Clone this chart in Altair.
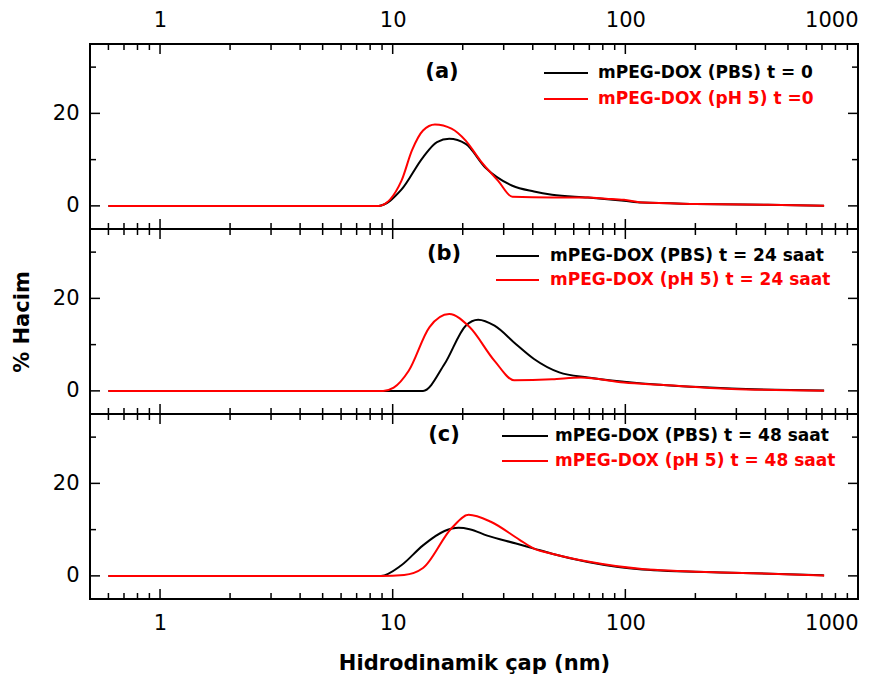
import altair as alt
import pandas as pd

# ---------------- data ----------------
series_names = ["pbs", "ph5"]
series_colors = ["#000000", "#ff0000"]

# panel (a) t = 0
a_pbs_d = [0.6, 8.7, 10.9, 13.5, 15.5, 17.5, 20.6, 25.0, 32.7, 40.5, 48.4, 69.0, 98.6, 118, 201, 409, 715]
a_pbs_v = [0, 0, 3.5, 10.5, 13.8, 14.5, 13.4, 8.3, 4.35, 3.1, 2.4, 1.8, 1.1, 0.72, 0.43, 0.22, 0.05]
a_ph5_d = [0.6, 8.7, 10.9, 12.1, 13.5, 15.2, 17.9, 20.6, 23.8, 28.4, 32.7, 48.4, 69.0, 82.6, 98.6, 118, 201, 409, 715]
a_ph5_v = [0, 0, 5.4, 12.0, 16.3, 17.6, 16.7, 14.1, 9.8, 5.4, 1.96, 1.8, 1.8, 1.56, 1.3, 0.72, 0.43, 0.22, 0.05]

# panel (b) t = 24 saat
b_pbs_d = [0.6, 13.5, 16.7, 20.6, 23.3, 27.4, 33.9, 40.5, 52.0, 69.0, 98.6, 141, 286, 715]
b_pbs_v = [0, 0, 5.8, 14.1, 15.4, 14.1, 10.1, 6.9, 4.0, 2.9, 2.0, 1.3, 0.5, 0.1]
b_ph5_d = [0.6, 9.1, 10.1, 11.7, 14.4, 17.5, 21.4, 27.4, 33.3, 48.4, 64.4, 98.6, 141, 286, 715]
b_ph5_v = [0, 0, 0.7, 4.3, 13.8, 16.6, 13.8, 6.5, 2.3, 2.5, 2.9, 1.8, 1.3, 0.4, 0.05]

# panel (c) t = 48 saat
c_pbs_d = [0.6, 8.9, 10.9, 13.5, 16.7, 19.2, 21.4, 25.5, 33.9, 40.5, 48.4, 69.0, 118, 286, 715]
c_pbs_v = [0, 0, 2.3, 6.6, 9.7, 10.4, 10.1, 8.7, 7.0, 5.9, 4.8, 3.0, 1.4, 0.7, 0.1]
c_ph5_d = [0.6, 8.9, 11.2, 13.5, 17.9, 21.2, 26.4, 35.1, 40.5, 48.4, 69.0, 118, 286, 715]
c_ph5_v = [0, 0, 0.2, 1.7, 10.3, 13.2, 11.7, 7.8, 5.9, 4.8, 3.1, 1.5, 0.7, 0.1]

panel_tags = ["(a)", "(b)", "(c)"]
legend_a = ["mPEG-DOX (PBS) t = 0", "mPEG-DOX (pH 5) t =0"]
legend_b = ["mPEG-DOX (PBS) t = 24 saat", "mPEG-DOX (pH 5) t = 24 saat"]
legend_c = ["mPEG-DOX (PBS) t = 48 saat", "mPEG-DOX (pH 5) t = 48 saat"]

x_major = [1, 10, 100, 1000]
x_minor = [0.6, 0.7, 0.8, 0.9, 2, 3, 4, 5, 6, 7, 8, 9,
           20, 30, 40, 50, 60, 70, 80, 90, 200, 300, 400, 500, 600, 700, 800, 900]
y_labeled = [0, 20]
y_minor = [10, 30]
x_labels = [1, 10, 100, 1000]

x_title = "Hidrodinamik çap (nm)"
y_title = "% Hacim"

# ---------------- styling ----------------
W, H = 768, 185
FONT = "DejaVu Sans"
X_DOMAIN = [0.5, 1000]
Y_DOMAIN = [-5, 35]
MAJ, MIN = 10, 6


def xs():
    return alt.Scale(type="log", domain=X_DOMAIN, nice=False)


def ys():
    return alt.Scale(domain=Y_DOMAIN, nice=False, zero=False)


def tick_layers(xaxis, yaxis):
    out = []
    for vals, L in ((x_major, MAJ), (x_minor, MIN)):
        base = alt.Chart(pd.DataFrame({"t": vals})).mark_rule(color="black", strokeWidth=1.5)
        xe = alt.X("t:Q", scale=xs(), axis=xaxis)
        out.append(base.encode(x=xe, y=alt.value(0), y2=alt.value(L)))
        out.append(base.encode(x=xe, y=alt.value(H), y2=alt.value(H - L)))
    for vals, L in ((y_labeled, MAJ), (y_minor, MIN)):
        base = alt.Chart(pd.DataFrame({"t": vals})).mark_rule(color="black", strokeWidth=1.5)
        ye = alt.Y("t:Q", scale=ys(), axis=yaxis)
        out.append(base.encode(y=ye, x=alt.value(0), x2=alt.value(L)))
        out.append(base.encode(y=ye, x=alt.value(W), x2=alt.value(W - L)))
    return out


def panel(d1, v1, d2, v2, tag, legend, pos, xaxis_kind, show_ytitle):
    df = pd.concat([
        pd.DataFrame({"d": d1, "v": v1, "s": series_names[0]}),
        pd.DataFrame({"d": d2, "v": v2, "s": series_names[1]}),
    ])
    if xaxis_kind == "top":
        xaxis = alt.Axis(orient="top", values=x_labels, format="d", ticks=False, domain=False,
                         grid=False, labelFontSize=21, labelPadding=14, labelColor="black",
                         labelFont=FONT, title=None)
    elif xaxis_kind == "bottom":
        xaxis = alt.Axis(orient="bottom", values=x_labels, format="d", ticks=False, domain=False,
                         grid=False, labelFontSize=21, labelPadding=13, labelColor="black",
                         labelFont=FONT, title=x_title, titleFontSize=21, titleFontWeight="bold",
                         titleFont=FONT, titlePadding=19, titleColor="black")
    else:
        xaxis = None
    yargs = dict(values=y_labeled, ticks=False, domain=False, grid=False, labelFontSize=21,
                 labelPadding=11, labelColor="black", labelFont=FONT,
                 minExtent=38, maxExtent=38)
    if show_ytitle:
        yargs.update(title=y_title, titleFontSize=21, titleFontWeight="bold", titleFont=FONT,
                     titlePadding=20, titleColor="black")
    else:
        yargs.update(title=None)
    yaxis = alt.Axis(**yargs)
    lines = alt.Chart(df).mark_line(strokeWidth=2, interpolate="monotone", clip=True).encode(
        x=alt.X("d:Q", scale=xs(), axis=xaxis),
        y=alt.Y("v:Q", scale=ys(), axis=yaxis),
        color=alt.Color("s:N", scale=alt.Scale(domain=series_names, range=series_colors), legend=None),
    )
    layers = [lines] + tick_layers(xaxis, yaxis)
    # panel tag
    layers.append(
        alt.Chart(pd.DataFrame({"t": [tag]})).mark_text(
            align="center", baseline="middle", fontSize=21, fontWeight="bold", font=FONT, color="black"
        ).encode(text="t:N", x=alt.value(pos["tag"][0]), y=alt.value(pos["tag"][1]))
    )
    for i in range(2):
        c = series_colors[i]
        yy = pos["ys"][i]
        layers.append(
            alt.Chart(pd.DataFrame({"k": [0]})).mark_rule(color=c, strokeWidth=2).encode(
                x=alt.value(pos["line"][0]), x2=alt.value(pos["line"][1]), y=alt.value(yy))
        )
        layers.append(
            alt.Chart(pd.DataFrame({"t": [legend[i]]})).mark_text(
                align="left", baseline="middle", fontSize=17, fontWeight="bold", font=FONT, color=c
            ).encode(text="t:N", x=alt.value(pos["text"]), y=alt.value(yy))
        )
    return alt.layer(*layers).properties(width=W, height=H)


pos_a = {"tag": (352, 28), "line": (454, 498), "text": 508, "ys": (29, 55)}
pos_b = {"tag": (354, 25), "line": (406, 449), "text": 460, "ys": (27, 51)}
pos_c = {"tag": (354, 21), "line": (412, 458), "text": 465, "ys": (22, 47)}

pa = panel(a_pbs_d, a_pbs_v, a_ph5_d, a_ph5_v, panel_tags[0], legend_a, pos_a, "top", False)
pb = panel(b_pbs_d, b_pbs_v, b_ph5_d, b_ph5_v, panel_tags[1], legend_b, pos_b, "none", True)
pc = panel(c_pbs_d, c_pbs_v, c_ph5_d, c_ph5_v, panel_tags[2], legend_c, pos_c, "bottom", False)

chart = alt.vconcat(pa, pb, pc, spacing=0, bounds="flush").properties(
    padding={"left": 10, "top": 8, "right": 5, "bottom": 5}
).configure(font=FONT).configure_view(stroke="black", strokeWidth=2)

chart.save("out.html", embed_options={"renderer": "svg", "actions": False})
